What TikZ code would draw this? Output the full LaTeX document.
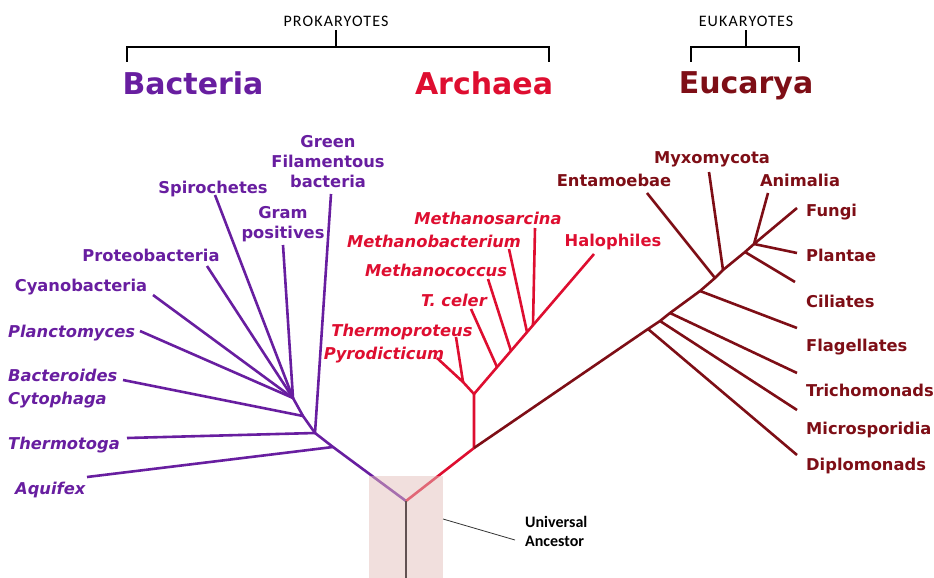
\documentclass[tikz,border=0pt]{standalone}
\usepackage{fontspec}
\setmainfont{DejaVu Sans}
\newfontfamily\calibrifont{Carlito}
\newfontfamily\calibriwide[LetterSpace=7]{Carlito}
\definecolor{bactpurple}{RGB}{104,30,160}
\definecolor{archred}{RGB}{222,14,48}
\definecolor{eukmaroon}{RGB}{126,14,22}
\definecolor{ancgrey}{RGB}{98,82,82}
\definecolor{ancpink}{RGB}{228,192,188}
\tikzset{
  branch/.style={line width=2.6pt},
  taxon/.style={inner sep=0pt, font=\fontsize{16.3}{20}\selectfont\bfseries},
  taxonit/.style={inner sep=0pt, font=\fontsize{16.3}{23}\selectfont\bfseries\itshape},
  kingdom/.style={inner sep=0pt, font=\fontsize{30}{32}\selectfont\bfseries},
  group/.style={inner sep=0pt, font=\calibriwide\fontsize{16}{18}\selectfont},
  brace/.style={line width=1.6pt},
  pointer/.style={line width=0.8pt, black!80}
}

\begin{document}
\begin{tikzpicture}[x=1pt, y=-1pt]
\useasboundingbox (0,0) rectangle (934,578);

\node[group, anchor=base] (prok) at (336,27) {PROKARYOTES};
\node[group, anchor=base] (euk) at (746,27) {EUKARYOTES};
\coordinate (prokL) at (127,62);
\coordinate (prokR) at (549,62);
\coordinate (eukL) at (691,62);
\coordinate (eukR) at (799,62);
\draw[brace] (prokL) -- ++(0,-15) -| (prokR);
\draw[brace] ([yshift=-3pt]prok.south) -- ++(0,16);
\draw[brace] (eukL) -- ++(0,-15) -| (eukR);
\draw[brace] ([yshift=-3pt]euk.south) -- ++(0,16);

\node[kingdom, bactpurple, anchor=base] (bacteria) at (193,94) {Bacteria};
\node[kingdom, archred, anchor=base] (archaea) at (484,94) {Archaea};
\node[kingdom, eukmaroon, anchor=base] (eucarya) at (746,93) {Eucarya};

% bacteria
\coordinate (anc) at (406,501);
\coordinate (bA) at (333,447);
\coordinate (bB) at (315,433);
\coordinate (bC) at (303,416);
\coordinate (bD) at (293,398);
\coordinate (aquifexT) at (87,477);
\coordinate (thermotogaT) at (127,438);
\coordinate (bacteroidesT) at (123,380);
\coordinate (planctoT) at (140,331);
\coordinate (cyanoT) at (153,295);
\coordinate (proteoT) at (207,266);
\coordinate (spiroT) at (215,195);
\coordinate (gramT) at (283,245);
\coordinate (greenT) at (331,194);

\draw[branch, bactpurple] (anc) -- (bA) -- (bB) -- (bC) -- (bD);
\draw[branch, bactpurple] (bA) -- (aquifexT);
\draw[branch, bactpurple] (bB) -- (thermotogaT);
\draw[branch, bactpurple] (bB) -- (greenT);
\draw[branch, bactpurple] (bC) -- (bacteroidesT);
\foreach \tip in {planctoT, cyanoT, proteoT, spiroT, gramT}
  \draw[branch, bactpurple] (bD) -- (\tip);

\node[taxon, bactpurple, anchor=north, align=center] (green) at (328,135) {Green\\Filamentous\\bacteria};
\node[taxon, bactpurple, anchor=base] (spiro) at (213,193) {Spirochetes};
\node[taxon, bactpurple, anchor=north, align=center] (gram) at (283,206) {Gram\\positives};
\node[taxon, bactpurple, anchor=base] (proteo) at (151,261) {Proteobacteria};
\node[taxon, bactpurple, anchor=base] (cyano) at (81,291) {Cyanobacteria};
\node[taxonit, bactpurple, anchor=base west] (plancto) at (8,337) {Planctomyces};
\node[taxonit, bactpurple, anchor=north west, align=left] (bacteroides) at (8,369) {Bacteroides\\Cytophaga};
\node[taxonit, bactpurple, anchor=base west] (thermotoga) at (8,449) {Thermotoga};
\node[taxonit, bactpurple, anchor=base west] (aquifex) at (15,494) {Aquifex};

% archaea
\coordinate (aA) at (474,448);
\coordinate (aB) at (474,394);
\coordinate (aC) at (463,382);
\coordinate (pyroT) at (437,358);
\coordinate (tprotT) at (456,337);
\coordinate (celerJ) at (497,367);
\coordinate (coccusJ) at (511,351);
\coordinate (mbactJ) at (527,332);
\coordinate (sarcJ) at (533,325);
\coordinate (celerT) at (471,309);
\coordinate (coccusT) at (488,279);
\coordinate (mbactT) at (509,249);
\coordinate (sarcT) at (535,228);
\coordinate (haloT) at (594,254);

\draw[branch, archred] (anc) -- (aA) -- (aB) -- (aC) -- (pyroT);
\draw[branch, archred] (aC) -- (tprotT);
\draw[branch, archred] (aB) -- (haloT);
\draw[branch, archred] (celerJ) -- (celerT);
\draw[branch, archred] (coccusJ) -- (coccusT);
\draw[branch, archred] (mbactJ) -- (mbactT);
\draw[branch, archred] (sarcJ) -- (sarcT);

\node[taxonit, archred, anchor=base] (sarc) at (488,224) {Methanosarcina};
\node[taxonit, archred, anchor=base] (mbact) at (434,247) {Methanobacterium};
\node[taxonit, archred, anchor=base] (coccus) at (436,276) {Methanococcus};
\node[taxonit, archred, anchor=base] (celer) at (454,306) {T. celer};
\node[taxonit, archred, anchor=base] (tprot) at (402,336) {Thermoproteus};
\node[taxonit, archred, anchor=base] (pyro) at (384,359) {Pyrodicticum};
\node[taxon, archred, anchor=base] (halo) at (613,246) {Halophiles};

% eucarya
\coordinate (eA) at (648,329);
\coordinate (eB) at (660,321);
\coordinate (eC) at (670,313);
\coordinate (eD) at (700,291);
\coordinate (eE) at (715,278);
\coordinate (eF) at (723,270);
\coordinate (eG) at (745,252);
\coordinate (eH) at (754,244);
\coordinate (diploT) at (797,455);
\coordinate (microT) at (797,410);
\coordinate (trichoT) at (797,373);
\coordinate (flagT) at (797,328);
\coordinate (entaT) at (647,193);
\coordinate (myxoT) at (709,172);
\coordinate (ciliT) at (795,282);
\coordinate (plantT) at (797,253);
\coordinate (fungiT) at (797,208);
\coordinate (animT) at (768,193);

\draw[branch, eukmaroon] (aA) -- (eA) -- (eB) -- (eC) -- (eD) -- (eE) -- (eF) -- (eG) -- (eH);
\draw[branch, eukmaroon] (eA) -- (diploT);
\draw[branch, eukmaroon] (eB) -- (microT);
\draw[branch, eukmaroon] (eC) -- (trichoT);
\draw[branch, eukmaroon] (eD) -- (flagT);
\draw[branch, eukmaroon] (eE) -- (entaT);
\draw[branch, eukmaroon] (eF) -- (myxoT);
\draw[branch, eukmaroon] (eG) -- (ciliT);
\foreach \tip in {plantT, fungiT, animT}
  \draw[branch, eukmaroon] (eH) -- (\tip);

\node[taxon, eukmaroon, anchor=base] (myxo) at (712,163) {Myxomycota};
\node[taxon, eukmaroon, anchor=base] (enta) at (614,186) {Entamoebae};
\node[taxon, eukmaroon, anchor=base] (anim) at (800,186) {Animalia};
\node[taxon, eukmaroon, anchor=base west] (fungi) at (806,216) {Fungi};
\node[taxon, eukmaroon, anchor=base west] (plant) at (806,261) {Plantae};
\node[taxon, eukmaroon, anchor=base west] (cili) at (806,307) {Ciliates};
\node[taxon, eukmaroon, anchor=base west] (flag) at (806,351) {Flagellates};
\node[taxon, eukmaroon, anchor=base west] (tricho) at (806,396) {Trichomonads};
\node[taxon, eukmaroon, anchor=base west] (micro) at (806,434) {Microsporidia};
\node[taxon, eukmaroon, anchor=base west] (diplo) at (806,470) {Diplomonads};

% universal ancestor
\fill[ancpink, fill opacity=0.5] (369,476) rectangle (443,578);
\coordinate (stem) at (406,578);
\draw[branch, ancgrey] (anc) -- (stem);
\node[inner sep=0pt, anchor=north west, align=left, font=\calibrifont\bfseries\fontsize{16}{19.5}\selectfont] (ancestor) at (525,516) {Universal\\Ancestor};
\coordinate (ptrA) at (443,519);
\coordinate (ptrB) at (515,540);
\draw[pointer] (ptrA) -- (ptrB);

\end{tikzpicture}
\end{document}
